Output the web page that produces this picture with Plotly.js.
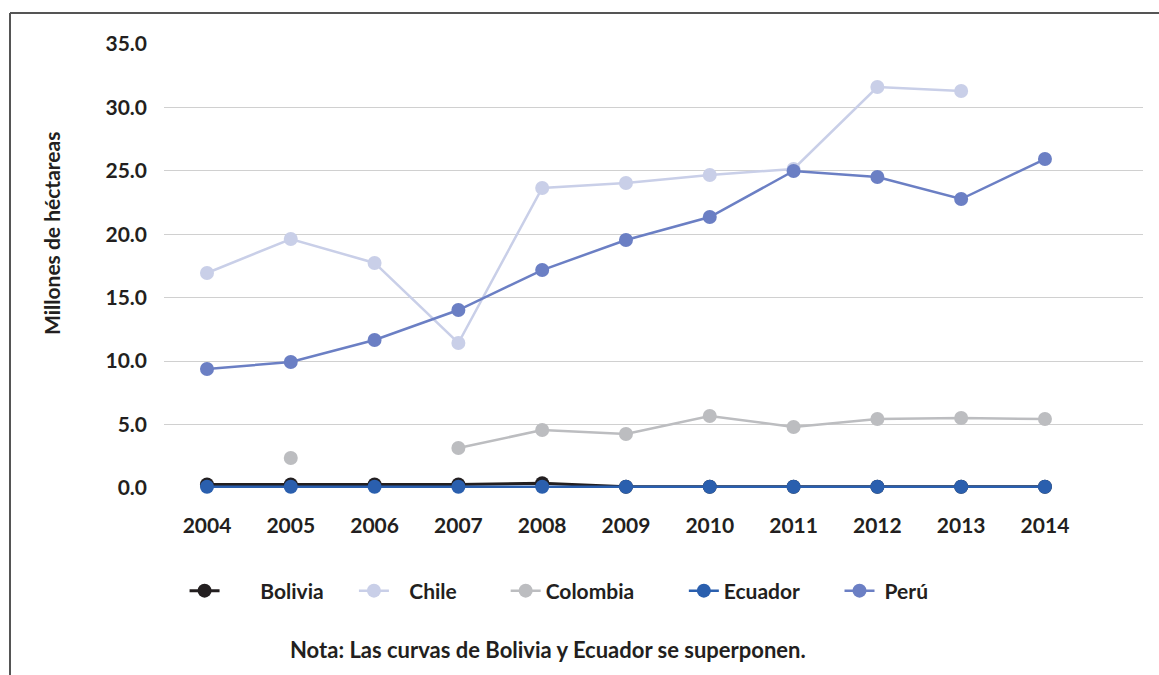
<!DOCTYPE html>
<html><head><meta charset="utf-8">
<script src="https://cdn.plot.ly/plotly-3.0.1.min.js"></script>
<style>html,body{margin:0;padding:0;background:#fff}#chart{width:1159px;height:675px}</style>
</head><body><div id="chart"></div>
<script>
var years = [2004,2005,2006,2007,2008,2009,2010,2011,2012,2013,2014];
var bolivia  = [0.28,0.28,0.28,0.28,0.38,0.1,0.1,0.1,0.1,0.1,0.1];
var chile    = [16.95,19.63,17.74,11.43,23.65,24.04,24.67,25.15,31.61,31.29,null];
var colombia = [null,2.36,null,3.15,4.57,4.26,5.68,4.81,5.44,5.52,5.44];
var ecuador  = [0.1,0.1,0.1,0.1,0.1,0.1,0.1,0.1,0.1,0.1,0.1];
var peru     = [9.38,9.93,11.67,14.03,17.18,19.55,21.36,24.99,24.52,22.78,25.93];
var seriesNames = ['Bolivia','Chile','Colombia','Ecuador','Perú'];
var seriesColors = ['#231f20','#c9cfe8','#bcbdc0','#2a5fae','#6b7fc4'];
var yTicks = [0,5,10,15,20,25,30,35];
var yTickText = ['0.0','5.0','10.0','15.0','20.0','25.0','30.0','35.0'];
var yTitle = 'Millones de héctareas';
var note = 'Nota: Las curvas de Bolivia y Ecuador se superponen.';

var data = [bolivia, chile, colombia, ecuador, peru];
var legendX = [0.021, 0.194, 0.349, 0.531, 0.69];
var pads = [7, 3, 0, 0, 1];
var traces = data.map(function(d,i){
  return {
    x: years, y: d, name: '\u00a0'.repeat(pads[i]) + seriesNames[i], type:'scatter', mode:'lines+markers',
    line:{color:seriesColors[i], width:(i===0?3:2.5)},
    marker:{color:seriesColors[i], size:14},
    connectgaps:false, cliponaxis:false,
    legend: i===0 ? 'legend' : 'legend'+(i+1)
  };
});
var ff = 'Lato, "Open Sans", sans-serif';
var font = {family:ff, size:21, color:'#231f20', weight:'bold'};
var legFont = {family:ff, size:21, color:'#231f20', weight:'bold'};
var layout = {
  width:1159, height:675,
  margin:{l:164, r:16, t:44, b:187},
  paper_bgcolor:'#fff', plot_bgcolor:'#fff',
  font: font,
  showlegend:true,
  xaxis:{range:[2003.487,2015.17], tickvals:years, ticktext:years.map(String), showgrid:false, zeroline:false, showline:false, ticks:'', ticklabelstandoff:23, tickfont:font, fixedrange:true},
  yaxis:{range:[0,35], tickvals:yTicks, ticktext:yTickText, showgrid:true, gridcolor:'#d0d0d0', gridwidth:1, zeroline:false, showline:false, ticks:'', ticklabelstandoff:16, tickfont:font, fixedrange:true},
  annotations:[
    {xref:'paper', yref:'paper', x:(52-164)/979, y:(488-234)/444, xanchor:'center', yanchor:'middle', text:yTitle, textangle:-90, showarrow:false, font:{family:ff, size:21, color:'#231f20', weight:'bold'}},
    {xref:'paper', yref:'paper', x:(548-164)/979, y:(488-649)/444, xanchor:'center', yanchor:'middle', text:note, showarrow:false, font:{family:ff, size:22, color:'#231f20', weight:'bold'}}
  ],
  shapes:[
    {type:'line', xref:'paper', yref:'paper', x0:(10-164)/979, x1:(1165-164)/979, y0:(488-13)/444, y1:(488-13)/444, line:{color:'#555', width:2}},
    {type:'line', xref:'paper', yref:'paper', x0:(10-164)/979, x1:(10-164)/979, y0:(488-13)/444, y1:(488-680)/444, line:{color:'#555', width:2}}
  ]
};
for (var i=0;i<5;i++){
  var key = i===0 ? 'legend' : 'legend'+(i+1);
  layout[key] = {x:legendX[i], y:(488-591)/444, xanchor:'left', yanchor:'middle', orientation:'h', font:legFont, bgcolor:'rgba(0,0,0,0)', itemclick:false, itemdoubleclick:false};
}
Plotly.newPlot('chart', traces, layout, {displayModeBar:false, staticPlot:true});
</script></body></html>
